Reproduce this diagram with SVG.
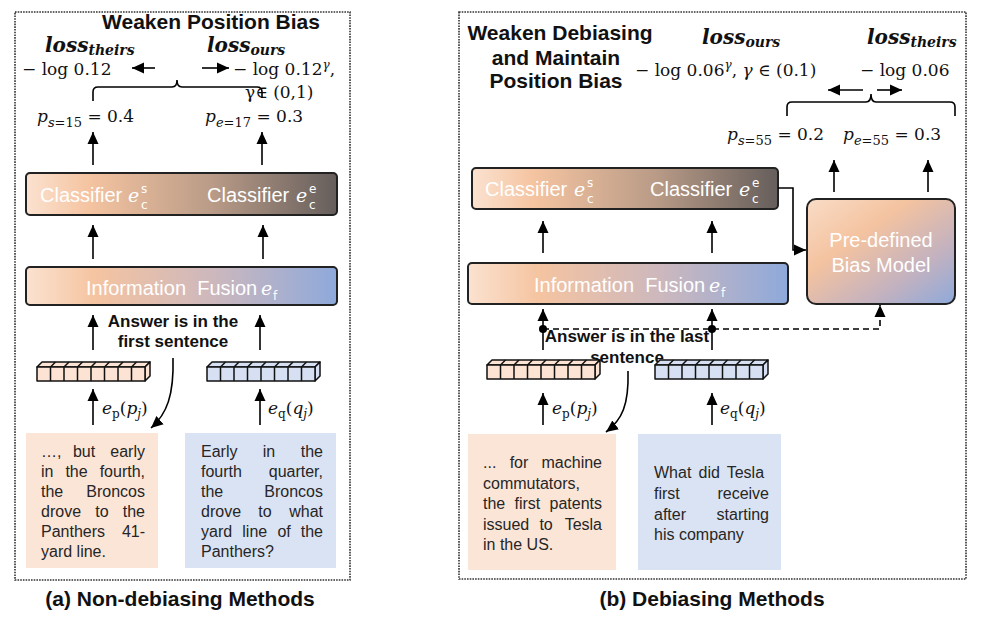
<svg xmlns="http://www.w3.org/2000/svg" width="984" height="620" viewBox="0 0 984 620">
<style>
.bd{fill:none;stroke:#333;stroke-width:1.6;stroke-dasharray:1.6 1.1}
.tt{font-family:"Liberation Sans",Arial,sans-serif;font-weight:bold;font-size:21px;fill:#111}
.ans{font-family:"Liberation Sans",Arial,sans-serif;font-weight:bold;font-size:17px;fill:#111}
.w{font-family:"Liberation Sans",Arial,sans-serif;font-size:20px;fill:#fff}
.wm{font-family:"DejaVu Serif",serif;font-style:italic;font-size:19px;fill:#fff}
.ws{font-family:"DejaVu Sans",sans-serif;font-size:12px;fill:#fff}
.m{font-family:"DejaVu Serif",serif;font-size:17px;fill:#111}
.lo{font-family:"DejaVu Serif",serif;font-size:20px;font-weight:bold;font-style:italic;fill:#111}
.bo{font-family:"Liberation Sans",Arial,sans-serif;font-size:16px;fill:#262626}
.box{stroke:#222;stroke-width:2}
.ar{stroke:#000;stroke-width:1.6;fill:none;marker-end:url(#ah)}
.ln{stroke:#000;stroke-width:1.6;fill:none}
</style>
<defs>
<marker id="ah" markerUnits="userSpaceOnUse" markerWidth="12" markerHeight="12" refX="12" refY="6" orient="auto"><path d="M0,0.5 L12,6 L0,11.5 z" fill="#000"/></marker>
<linearGradient id="gC" x1="0" y1="0" x2="1" y2="0"><stop offset="0" stop-color="#fbe2d0"/><stop offset="0.2" stop-color="#f5c4a1"/><stop offset="0.6" stop-color="#b99b87"/><stop offset="1" stop-color="#655e5c"/></linearGradient>
<linearGradient id="gF" x1="0" y1="0" x2="1" y2="0"><stop offset="0" stop-color="#fbe2d0"/><stop offset="0.22" stop-color="#f5c4a1"/><stop offset="0.6" stop-color="#cdb8bd"/><stop offset="1" stop-color="#8ea9db"/></linearGradient>
<linearGradient id="gB" x1="0" y1="0" x2="1" y2="1"><stop offset="0" stop-color="#f9dcc6"/><stop offset="0.35" stop-color="#f4c3a0"/><stop offset="0.7" stop-color="#c4b2bf"/><stop offset="1" stop-color="#8ea9db"/></linearGradient>
<g id="blk" stroke="#111" stroke-width="1.5" stroke-linejoin="round">
<polygon points="0,0 5,-5 113,-5 108,0"/>
<polygon points="108,0 113,-5 113,9 108,14"/>
<rect x="0" y="0" width="108" height="14"/>
<path d="M13.5,0V14M27,0V14M40.5,0V14M54,0V14M67.5,0V14M81,0V14M94.5,0V14M13.5,0l5,-5M27,0l5,-5M40.5,0l5,-5M54,0l5,-5M67.5,0l5,-5M81,0l5,-5M94.5,0l5,-5" fill="none"/>
</g>
</defs>
<rect width="984" height="620" fill="#fff"/>

<!-- Panel (a) -->
<g id="panel-a">
<rect class="bd" x="15" y="12" width="335" height="568"/>
<text class="tt" x="211" y="29" text-anchor="middle" font-size="20.5">Weaken Position Bias</text>
<text class="tt" x="180" y="606" text-anchor="middle">(a) Non-debiasing Methods</text>
</g>

<g id="a-loss-theirs">
<text class="lo" x="45" y="52">loss<tspan font-size="14" dy="3">theirs</tspan></text>
<text class="m" x="22" y="75">− log 0.12</text>
</g>
<g id="a-loss-ours">
<text class="lo" x="207" y="52">loss<tspan font-size="14" dy="3">ours</tspan></text>
<text class="m" x="233" y="75">− log 0.12<tspan font-size="12" dy="-6" font-style="italic">γ</tspan><tspan dy="6">,</tspan></text>
<text class="m" x="245" y="98">γ∈ (0,1)</text>
</g>
<g id="a-ps">
<text class="m" x="37" y="122" font-size="18"><tspan font-style="italic">p</tspan><tspan font-size="13" dy="5"><tspan font-style="italic">s</tspan>=15</tspan><tspan dy="-5"> = 0.4</tspan></text>
</g>
<g id="a-pe">
<text class="m" x="205" y="122" font-size="18"><tspan font-style="italic">p</tspan><tspan font-size="13" dy="5"><tspan font-style="italic">e</tspan>=17</tspan><tspan dy="-5"> = 0.3</tspan></text>
</g>

<g id="a-classifier">
<rect class="box" x="26" y="173" width="311" height="42" rx="4" fill="url(#gC)"/>
<text class="w" x="40" y="202">Classifier</text>
<text class="wm" x="128" y="202">e</text>
<text class="ws" x="141" y="193">s</text>
<text class="ws" x="141" y="209">c</text>
<text class="w" x="207" y="202">Classifier</text>
<text class="wm" x="296" y="202">e</text>
<text class="ws" x="309" y="193">e</text>
<text class="ws" x="309" y="209">c</text>
</g>
<g id="a-fusion">
<rect class="box" x="26" y="267" width="311" height="38" rx="4" fill="url(#gF)"/>
<text class="w" x="86" y="295" xml:space="preserve">Information  Fusion</text>
<text class="wm" x="261" y="295">e</text>
<text class="ws" x="273" y="300">f</text>
</g>
<g id="a-answer">
<text class="ans" x="173" y="327" text-anchor="middle">Answer is in the</text>
<text class="ans" x="173" y="347" text-anchor="middle">first sentence</text>
</g>
<g id="a-emb-p"><use href="#blk" x="37" y="367" fill="#fce3d3"/></g>
<g id="a-emb-q"><use href="#blk" x="207" y="367" fill="#d6e0f2"/></g>
<g id="a-ep">
<text class="m" x="102" y="414" font-size="18"><tspan font-style="italic">e</tspan><tspan font-size="12" dy="4">p</tspan><tspan dy="-4">(</tspan><tspan font-style="italic">p</tspan><tspan font-size="12" dy="4" font-style="italic">j</tspan><tspan dy="-4">)</tspan></text>
</g>
<g id="a-eq">
<text class="m" x="268" y="414" font-size="18"><tspan font-style="italic">e</tspan><tspan font-size="12" dy="4">q</tspan><tspan dy="-4">(</tspan><tspan font-style="italic">q</tspan><tspan font-size="12" dy="4" font-style="italic">j</tspan><tspan dy="-4">)</tspan></text>
</g>
<g id="a-passage">
<rect x="26" y="433" width="132" height="135" fill="#fbe5d7"/>
<text class="bo" x="41" y="457">…,</text><text class="bo" x="84" y="457" text-anchor="middle">but</text><text class="bo" x="145" y="457" text-anchor="end">early</text>
<text class="bo" x="41" y="477">in</text><text class="bo" x="76.5" y="477" text-anchor="middle">the</text><text class="bo" x="145" y="477" text-anchor="end">fourth,</text>
<text class="bo" x="41" y="497">the</text><text class="bo" x="145" y="497" text-anchor="end">Broncos</text>
<text class="bo" x="41" y="517">drove</text><text class="bo" x="102" y="517" text-anchor="middle">to</text><text class="bo" x="145" y="517" text-anchor="end">the</text>
<text class="bo" x="41" y="537">Panthers</text><text class="bo" x="145" y="537" text-anchor="end">41-</text>
<text class="bo" x="41" y="557">yard line.</text>
</g>
<g id="a-question">
<rect x="185" y="433" width="151" height="135" fill="#dae3f3"/>
<text class="bo" x="201" y="457">Early</text><text class="bo" x="269" y="457" text-anchor="middle">in</text><text class="bo" x="323" y="457" text-anchor="end">the</text>
<text class="bo" x="201" y="477">fourth</text><text class="bo" x="323" y="477" text-anchor="end">quarter,</text>
<text class="bo" x="201" y="497">the</text><text class="bo" x="323" y="497" text-anchor="end">Broncos</text>
<text class="bo" x="201" y="517">drove</text><text class="bo" x="265" y="517" text-anchor="middle">to</text><text class="bo" x="323" y="517" text-anchor="end">what</text>
<text class="bo" x="201" y="537">yard</text><text class="bo" x="242.3" y="537">line</text><text class="bo" x="277.4" y="537">of</text><text class="bo" x="323" y="537" text-anchor="end">the</text>
<text class="bo" x="201" y="557">Panthers?</text>
</g>

<!-- Panel (b) -->
<g id="panel-b">
<rect class="bd" x="459" y="12" width="507" height="567"/>
<text class="tt" x="560" y="40" text-anchor="middle">Weaken Debiasing</text>
<text class="tt" x="556" y="65" text-anchor="middle">and Maintain</text>
<text class="tt" x="556" y="88" text-anchor="middle">Position Bias</text>
<text class="tt" x="712" y="606" text-anchor="middle">(b) Debiasing Methods</text>
</g>
<g id="b-loss-ours">
<text class="lo" x="702" y="44">loss<tspan font-size="14" dy="3">ours</tspan></text>
<text class="m" x="635" y="76" font-size="17.5">− log 0.06<tspan font-size="12" dy="-7" font-style="italic">γ</tspan><tspan dy="7">, </tspan><tspan font-style="italic">γ</tspan> ∈ (0.1)</text>
</g>
<g id="b-loss-theirs">
<text class="lo" x="867" y="44">loss<tspan font-size="14" dy="3">theirs</tspan></text>
<text class="m" x="860" y="76" font-size="17.5">− log 0.06</text>
</g>
<g id="b-ps">
<text class="m" x="727" y="140" font-size="18"><tspan font-style="italic">p</tspan><tspan font-size="13" dy="5"><tspan font-style="italic">s</tspan>=55</tspan><tspan dy="-5"> = 0.2</tspan></text>
</g>
<g id="b-pe">
<text class="m" x="843" y="140" font-size="18"><tspan font-style="italic">p</tspan><tspan font-size="13" dy="5"><tspan font-style="italic">e</tspan>=55</tspan><tspan dy="-5"> = 0.3</tspan></text>
</g>
<g id="b-classifier">
<rect class="box" x="472" y="168" width="306" height="41" rx="4" fill="url(#gC)"/>
<text class="w" x="485" y="196">Classifier</text>
<text class="wm" x="574" y="196">e</text>
<text class="ws" x="587" y="187">s</text>
<text class="ws" x="587" y="203">c</text>
<text class="w" x="650" y="196">Classifier</text>
<text class="wm" x="739" y="196">e</text>
<text class="ws" x="752" y="187">e</text>
<text class="ws" x="752" y="203">c</text>
</g>
<g id="b-fusion">
<rect class="box" x="468" y="263" width="320" height="41" rx="4" fill="url(#gF)"/>
<text class="w" x="534" y="292" xml:space="preserve">Information  Fusion</text>
<text class="wm" x="709" y="292">e</text>
<text class="ws" x="721" y="297">f</text>
</g>
<g id="b-bias">
<rect class="box" x="807" y="199" width="148" height="105" rx="9" fill="url(#gB)"/>
<text class="w" x="881" y="247" text-anchor="middle">Pre-defined</text>
<text class="w" x="881" y="272" text-anchor="middle">Bias Model</text>
</g>
<g id="b-answer">
<text class="ans" x="627" y="342" text-anchor="middle">Answer is in the last</text>
<text class="ans" x="627" y="363" text-anchor="middle">sentence</text>
</g>
<g id="b-emb-p"><use href="#blk" x="487" y="365" fill="#fce3d3"/></g>
<g id="b-emb-q"><use href="#blk" x="655" y="365" fill="#d6e0f2"/></g>
<g id="b-ep">
<text class="m" x="552" y="414" font-size="18"><tspan font-style="italic">e</tspan><tspan font-size="12" dy="4">p</tspan><tspan dy="-4">(</tspan><tspan font-style="italic">p</tspan><tspan font-size="12" dy="4" font-style="italic">j</tspan><tspan dy="-4">)</tspan></text>
</g>
<g id="b-eq">
<text class="m" x="720" y="414" font-size="18"><tspan font-style="italic">e</tspan><tspan font-size="12" dy="4">q</tspan><tspan dy="-4">(</tspan><tspan font-style="italic">q</tspan><tspan font-size="12" dy="4" font-style="italic">j</tspan><tspan dy="-4">)</tspan></text>
</g>
<g id="b-passage">
<rect x="468" y="434" width="148" height="136" fill="#fbe5d7"/>
<text class="bo" x="483" y="468">...</text><text class="bo" x="519" y="468" text-anchor="middle">for</text><text class="bo" x="602" y="468" text-anchor="end">machine</text>
<text class="bo" x="483" y="488.5">commutators,</text>
<text class="bo" x="483" y="509">the</text><text class="bo" x="514.5" y="509">first</text><text class="bo" x="602" y="509" text-anchor="end">patents</text>
<text class="bo" x="483" y="529.5">issued</text><text class="bo" x="539.4" y="529.5">to</text><text class="bo" x="602" y="529.5" text-anchor="end">Tesla</text>
<text class="bo" x="483" y="550">in the US.</text>
</g>
<g id="b-question">
<rect x="638" y="434" width="143" height="136" fill="#dae3f3"/>
<text class="bo" x="654" y="478" word-spacing="2.7">What did Tesla</text>
<text class="bo" x="654" y="499">first</text><text class="bo" x="769" y="499" text-anchor="end">receive</text>
<text class="bo" x="654" y="519.5">after</text><text class="bo" x="769" y="519.5" text-anchor="end">starting</text>
<text class="bo" x="654" y="540">his company</text>
</g>

<g id="connectors">
<!-- panel a -->
<line class="ar" x1="155" y1="68" x2="132" y2="68"/>
<line class="ar" x1="202" y1="68" x2="229" y2="68"/>
<path class="ln" d="M93,101 V92 Q93,87 98,87 H172 Q177,87 177,80 Q177,87 182,87 H257 Q262,87 262,92 V98"/>
<line class="ar" x1="93" y1="165" x2="93" y2="132"/>
<line class="ar" x1="262" y1="165" x2="262" y2="132"/>
<line class="ar" x1="93" y1="259" x2="93" y2="225"/>
<line class="ar" x1="263" y1="259" x2="263" y2="225"/>
<line class="ar" x1="93" y1="350" x2="93" y2="315"/>
<line class="ar" x1="260" y1="350" x2="260" y2="315"/>
<line class="ar" x1="93" y1="425" x2="93" y2="389"/>
<line class="ar" x1="260" y1="425" x2="260" y2="389"/>
<path class="ar" d="M173,358 C174,395 167,414 151,428"/>
<!-- panel b -->
<line class="ar" x1="863" y1="90" x2="828" y2="90"/>
<line class="ar" x1="877" y1="90" x2="902" y2="90"/>
<path class="ln" d="M787,116 V107 Q787,102 792,102 H866 Q871,102 871,94 Q871,102 876,102 H950 Q955,102 955,107 V116"/>
<line class="ar" x1="834" y1="192" x2="834" y2="160"/>
<line class="ar" x1="928" y1="192" x2="928" y2="160"/>
<path class="ar" d="M778,188 H793 V250 H806" stroke="#222"/>
<line class="ar" x1="543" y1="253" x2="543" y2="221"/>
<line class="ar" x1="712" y1="253" x2="712" y2="221"/>
<line class="ar" x1="543" y1="350" x2="543" y2="309"/>
<line class="ar" x1="712" y1="350" x2="712" y2="309"/>
<circle cx="543" cy="329" r="4" fill="#000"/>
<circle cx="712" cy="329" r="4" fill="#000"/>
<path class="ar" d="M543,329 H880 V305" stroke-dasharray="6 4"/>
<line class="ar" x1="543" y1="425" x2="543" y2="393"/>
<line class="ar" x1="712" y1="425" x2="712" y2="393"/>
<path class="ar" d="M628,371 C629,405 622,420 606,432"/>
</g>
</svg>
